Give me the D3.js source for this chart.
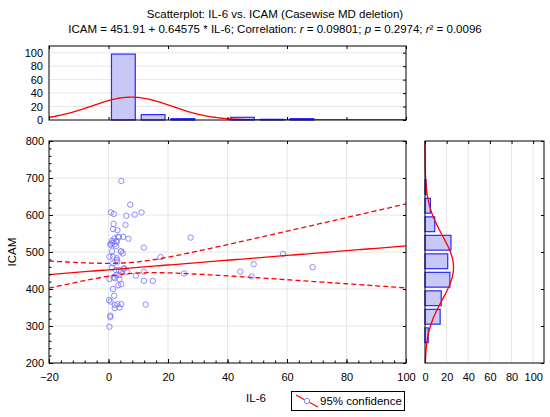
<!DOCTYPE html>
<html><head><meta charset="utf-8">
<script src="https://cdn.jsdelivr.net/npm/d3@7"></script>
<style>
body{margin:0;background:#fff;}
svg{font-family:"Liberation Sans",Arial,sans-serif;}
.tick text{font-size:11px;fill:#000;}
</style></head>
<body>
<svg id="c" width="550" height="417"></svg>
<script>
// ---- data ----
const il6 = [4.3,7.3,0.8,1.8,6.0,8.8,11.1,1.7,5.7,1.5,3.0,3.2,5.0,6.7,2.0,2.6,0.6,1.3,2.6,11.9,27.6,1.2,4.3,4.8,0.3,1.5,2.8,17.5,1.5,3.0,1.2,5.3,3.5,4.3,6.2,2.6,3.7,11.9,9.2,25.4,0.3,1.7,3.7,11.9,14.9,3.3,4.3,1.5,1.9,0.2,0.7,2.1,3.0,4.3,2.1,3.7,12.5,0.6,0.6,0.3,44.3,48.8,48.1,58.7,68.6,3.5,1.2,2.8,0.8,2.1,4.1,2.8,5.0,2.5,2.1];
const icam = [692,628,607,603,598,601,607,576,573,562,559,541,541,536,537,530,522,525,516,512,539,502,502,496,487,487,478,486,469,474,458,456,451,447,447,438,438,447,436,442,427,432,426,422,422,410,413,400,382,370,366,357,359,359,348,350,358,328,324,298,447,467,434,495,459,540,530,528,519,521,501,483,454,451,429];

const il6BinStarts = [0,10,20,30,40,50,60];
const il6Counts = [98,8,2,0,4,1,2];
const icamBinStarts = [250,300,350,400,450,500,550,600,650];
const icamCounts = [3,14,15,23,21,24,9,5,1];

const xTicks = [-20,0,20,40,60,80,100];
const yTicks = [200,300,400,500,600,700,800];
const countTicks = [0,20,40,60,80,100];

const intercept = 451.91, slope = 0.64575;
const nObs = 115, meanIL6 = 7.5, sxx = 17100, residSD = 80.3, tCrit = 1.981;
const il6FitMean = 7.7, il6FitSD = 13.5, il6BinW = 10;
const icamFitMean = 458, icamFitSD = 87, icamBinW = 50;

// ---- layout ----
const svg = d3.select("#c");
const X0 = 49, X1 = 406, Y0 = 141, Y1 = 363;
const x = d3.scaleLinear([-20,100],[X0,X1]);
const y = d3.scaleLinear([200,800],[Y1,Y0]);
const tY = d3.scaleLinear([0,110],[120,46]);
const rX = d3.scaleLinear([0,110],[425,544]);
const gridC = "#e6e6e6";
const barFill = "#c8c8f6", barStroke = "#2a2aff", red = "#ff0000", ptC = "#7f7fff";

function clean(g){ g.select(".domain").remove(); g.selectAll(".tick line").attr("stroke","#000"); }

// ===== main scatter =====
const gm = svg.append("g");
gm.selectAll(".vg").data(xTicks.slice(1,-1)).join("line")
  .attr("x1",d=>x(d)).attr("x2",d=>x(d)).attr("y1",Y0).attr("y2",Y1).attr("stroke",gridC);
gm.selectAll(".hg").data(yTicks.slice(1,-1)).join("line")
  .attr("x1",X0).attr("x2",X1).attr("y1",d=>y(d)).attr("y2",d=>y(d)).attr("stroke",gridC);

const clip = svg.append("clipPath").attr("id","mclip").append("rect").attr("x",X0).attr("y",Y0).attr("width",X1-X0).attr("height",Y1-Y0);

gm.append("g").selectAll("circle").data(il6.map((v,i)=>[v,icam[i]])).join("circle")
  .attr("cx",d=>x(d[0])).attr("cy",d=>y(d[1])).attr("r",2.7)
  .attr("fill","none").attr("stroke",ptC).attr("stroke-width",0.9);

const xs = d3.range(-20,100.01,1);
const fitLine = d3.line().x(d=>x(d[0])).y(d=>y(d[1]));
const half = v => tCrit*residSD*Math.sqrt(1/nObs + (v-meanIL6)**2/sxx);
const gl = gm.append("g").attr("clip-path","url(#mclip)");
gl.append("path").attr("d",fitLine(xs.map(v=>[v,intercept+slope*v]))).attr("fill","none").attr("stroke",red).attr("stroke-width",1.3);
gl.append("path").attr("d",fitLine(xs.map(v=>[v,intercept+slope*v+half(v)]))).attr("fill","none").attr("stroke",red).attr("stroke-width",1.3).attr("stroke-dasharray","5,3");
gl.append("path").attr("d",fitLine(xs.map(v=>[v,intercept+slope*v-half(v)]))).attr("fill","none").attr("stroke",red).attr("stroke-width",1.3).attr("stroke-dasharray","5,3");

// axes main
gm.append("g").attr("transform",`translate(0,${Y1})`)
  .call(d3.axisBottom(x).tickValues(xTicks).tickSize(-4).tickPadding(10).tickFormat(d3.format("d"))).call(clean);
gm.append("g").attr("transform",`translate(0,${Y1})`)
  .call(d3.axisBottom(x).tickValues(d3.range(-20,101,4)).tickSize(-2.5).tickFormat("")).call(clean);
gm.append("g").attr("transform",`translate(${X0},0)`)
  .call(d3.axisLeft(y).tickValues(yTicks).tickSize(-4).tickPadding(5)).call(clean);
gm.append("g").attr("transform",`translate(${X0},0)`)
  .call(d3.axisLeft(y).tickValues(d3.range(200,801,20)).tickSize(-2.5).tickFormat("")).call(clean);
gm.append("g").attr("transform",`translate(0,${Y0})`)
  .call(d3.axisTop(x).tickValues(xTicks).tickSize(-3).tickFormat("")).call(clean);
gm.append("g").attr("transform",`translate(${X1},0)`)
  .call(d3.axisRight(y).tickValues(yTicks).tickSize(-3).tickFormat("")).call(clean);
gm.append("rect").attr("x",X0).attr("y",Y0).attr("width",X1-X0).attr("height",Y1-Y0).attr("fill","none").attr("stroke","#000");

// ===== top histogram =====
const gt = svg.append("g");
gt.selectAll("line.g").data(countTicks.slice(1)).join("line")
  .attr("x1",X0).attr("x2",X1).attr("y1",d=>tY(d)).attr("y2",d=>tY(d)).attr("stroke",gridC);
gt.selectAll("rect.b").data(il6BinStarts.map((s,i)=>[s,il6Counts[i]]).filter(d=>d[1]>0)).join("rect")
  .attr("x",d=>x(d[0]+il6BinW*0.1)).attr("width",d=>x(d[0]+il6BinW*0.9)-x(d[0]+il6BinW*0.1))
  .attr("y",d=>tY(d[1])).attr("height",d=>tY(0)-tY(d[1]))
  .attr("fill",barFill).attr("stroke",barStroke).attr("stroke-width",1.2);
const tclip = svg.append("clipPath").attr("id","tclip").append("rect").attr("x",X0).attr("y",46).attr("width",X1-X0).attr("height",74);
gt.append("path").attr("clip-path","url(#tclip)")
  .attr("d",d3.line().x(d=>x(d)).y(d=>tY(nObs*il6BinW/(il6FitSD*Math.sqrt(2*Math.PI))*Math.exp(-((d-il6FitMean)**2)/(2*il6FitSD**2))))(d3.range(-20,100.01,0.5)))
  .attr("fill","none").attr("stroke",red).attr("stroke-width",1.3);
gt.append("g").attr("transform",`translate(${X0},0)`)
  .call(d3.axisLeft(tY).tickValues(countTicks).tickSize(0).tickPadding(6)).call(clean);
gt.append("g").attr("transform",`translate(${X1},0)`)
  .call(d3.axisRight(tY).tickValues(countTicks).tickSize(-3).tickFormat("")).call(clean);
gt.append("g").attr("transform",`translate(0,46)`)
  .call(d3.axisTop(x).tickValues(xTicks).tickSize(-3).tickFormat("")).call(clean);
gt.append("g").attr("transform",`translate(0,120)`)
  .call(d3.axisBottom(x).tickValues(xTicks).tickSize(-3).tickFormat("")).call(clean);
gt.append("rect").attr("x",X0).attr("y",46).attr("width",X1-X0).attr("height",74).attr("fill","none").attr("stroke","#000");

// ===== right histogram =====
const gr = svg.append("g");
gr.selectAll("line.g").data(countTicks.slice(1)).join("line")
  .attr("x1",d=>rX(d)).attr("x2",d=>rX(d)).attr("y1",Y0).attr("y2",Y1).attr("stroke",gridC);
gr.selectAll("rect.b").data(icamBinStarts.map((s,i)=>[s,icamCounts[i]])).join("rect")
  .attr("y",d=>y(d[0]+icamBinW*0.9)).attr("height",d=>y(d[0]+icamBinW*0.1)-y(d[0]+icamBinW*0.9))
  .attr("x",rX(0)).attr("width",d=>rX(d[1])-rX(0))
  .attr("fill",barFill).attr("stroke",barStroke).attr("stroke-width",1.2);
gr.append("path")
  .attr("d",d3.line().y(d=>y(d)).x(d=>rX(nObs*icamBinW/(icamFitSD*Math.sqrt(2*Math.PI))*Math.exp(-((d-icamFitMean)**2)/(2*icamFitSD**2))))(d3.range(200,800.01,2)))
  .attr("fill","none").attr("stroke",red).attr("stroke-width",1.3);
gr.append("g").attr("transform",`translate(0,${Y1})`)
  .call(d3.axisBottom(rX).tickValues(countTicks).tickSize(0).tickPadding(10)).call(clean);
gr.append("g").attr("transform",`translate(0,${Y0})`)
  .call(d3.axisTop(rX).tickValues(countTicks).tickSize(-3).tickFormat("")).call(clean);
gr.append("g").attr("transform",`translate(544,0)`)
  .call(d3.axisRight(y).tickValues(yTicks).tickSize(-3).tickFormat("")).call(clean);
gr.append("rect").attr("x",425).attr("y",Y0).attr("width",119).attr("height",Y1-Y0).attr("fill","none").attr("stroke","#000");

// ===== titles =====
svg.append("text").attr("x",275).attr("y",18).attr("text-anchor","middle").attr("font-size",11.5)
  .text("Scatterplot: IL-6 vs. ICAM (Casewise MD deletion)");
const t2 = svg.append("text").attr("x",275).attr("y",33).attr("text-anchor","middle").attr("font-size",11.5);
[["ICAM = 451.91 + 0.64575 * IL-6; Correlation: ",0],["r",1],[" = 0.09801; ",0],["p",1],[" = 0.2974; ",0],["r",1],["² = 0.0096",0]]
  .forEach(([s,it])=>t2.append("tspan").attr("font-style",it?"italic":"normal").text(s));

svg.append("text").attr("x",256).attr("y",402).attr("text-anchor","middle").attr("font-size",11.5).text("IL-6");
svg.append("text").attr("transform","translate(16,252) rotate(-90)").attr("text-anchor","middle").attr("font-size",11.5).text("ICAM");

// ===== legend =====
const lg = svg.append("g");
lg.append("rect").attr("x",291.5).attr("y",391.5).attr("width",113).attr("height",19).attr("fill","#fff").attr("stroke","#000");
lg.append("line").attr("x1",296).attr("y1",395).attr("x2",318).attr("y2",407).attr("stroke",red).attr("stroke-width",1.2);
lg.append("circle").attr("cx",307).attr("cy",401).attr("r",2.7).attr("fill","#fff").attr("stroke",ptC).attr("stroke-width",0.9);
lg.append("text").attr("x",320).attr("y",405).attr("font-size",11.5).text("95% confidence");
</script>
</body></html>
